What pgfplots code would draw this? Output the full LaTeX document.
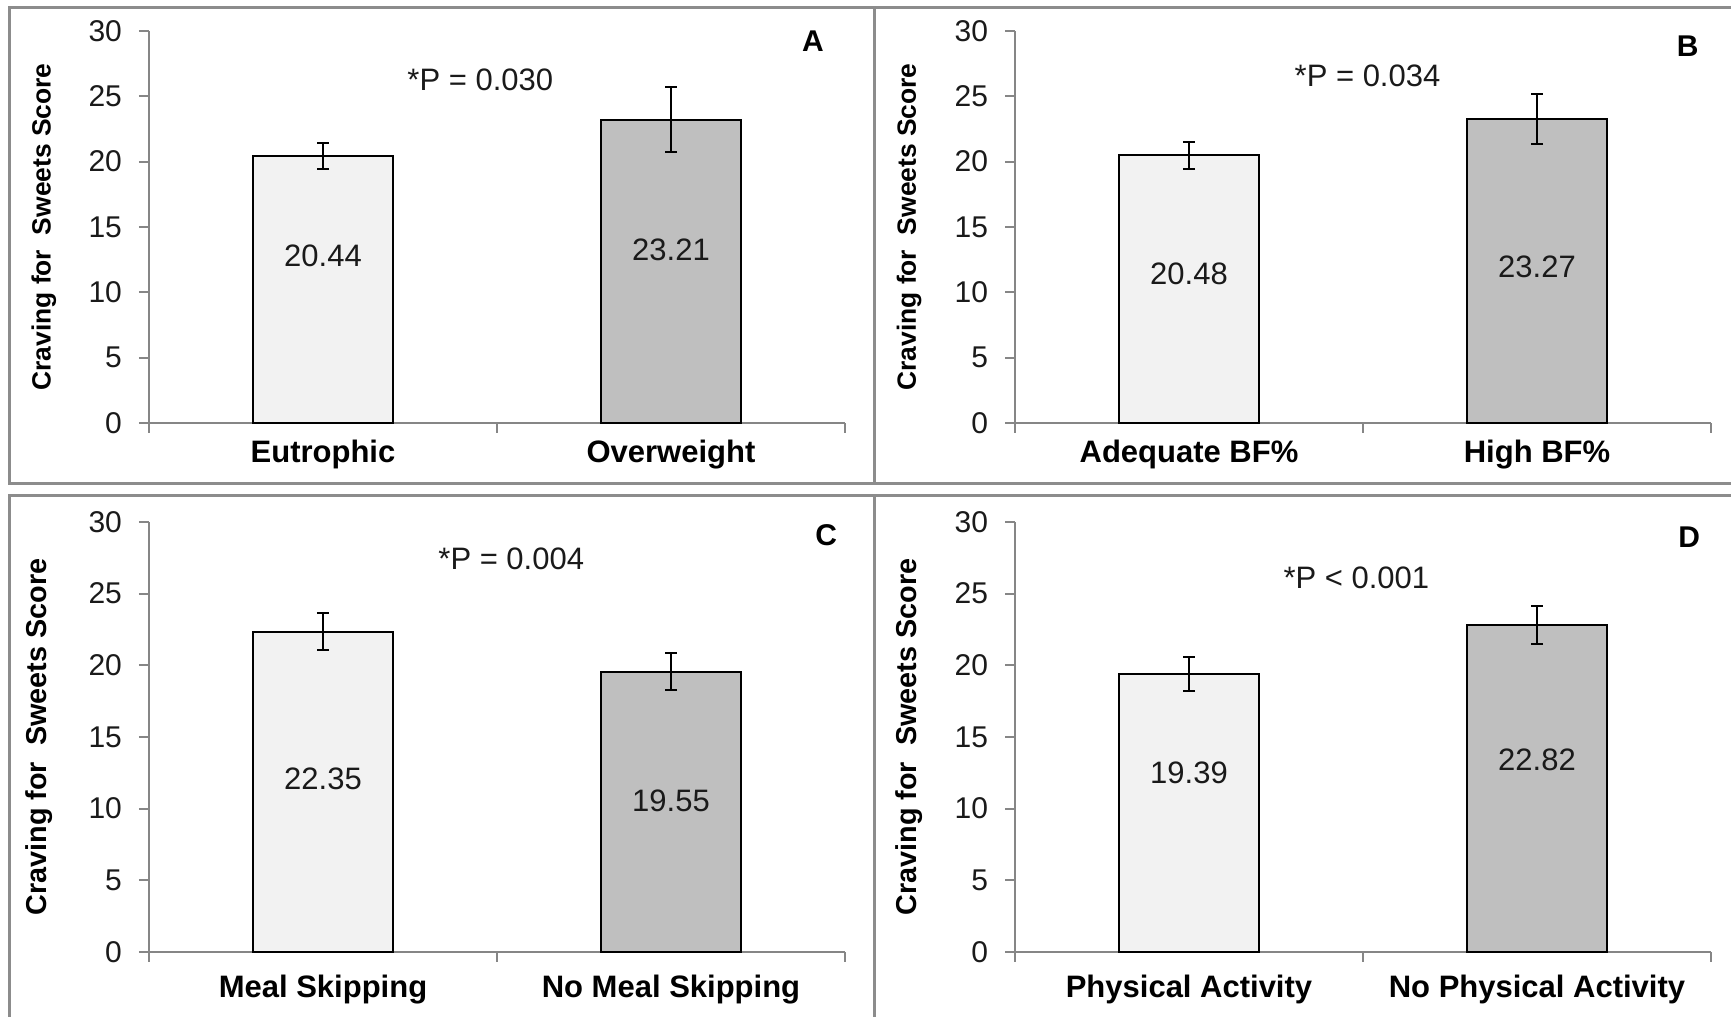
\documentclass[border=0pt]{standalone}
\usepackage{pgfplots}
\pgfplotsset{compat=1.18}
\usepackage{fontspec}
\setmainfont{Liberation Sans}
\definecolor{lightbar}{HTML}{F2F2F2}
\definecolor{darkbar}{HTML}{BFBFBF}
\definecolor{axisgray}{HTML}{868686}
\definecolor{bordergray}{HTML}{8C8C8C}
\definecolor{txt}{HTML}{1A1A1A}
\pgfplotsset{
  panel/.style={
    scale only axis,
    width=348pt,
    xmin=-0.5, xmax=1.5, ymin=0, ymax=30,
    ytick={0,5,...,30},
    xtick={-0.5,0.5,1.5},
    x tick label as interval,
    axis x line*=bottom, axis y line*=left,
    axis line style={draw=axisgray, line width=1.1pt, -},
    tick style={draw=axisgray, line width=1.1pt},
    tick align=outside,
    major tick length=5pt,
    /pgf/number format/assume math mode=true,
    yticklabel style={font=\fontsize{15}{15}\selectfont, text=txt, xshift=-5pt},
    xticklabel style={font=\fontsize{15.5}{15.5}\selectfont\bfseries, text=black},
    ylabel={Craving for\ \ Sweets Score},
    clip=false,
  },
  ylab/.style 2 args={every axis y label/.style={at={(axis description cs:#1,0.5)}, rotate=90, anchor=center, font=\fontsize{#2}{#2}\selectfont\bfseries}},
  lightb/.style={ybar, bar shift=0pt, bar width=0.4, fill=lightbar, draw=black, line width=1pt,
    error bars/.cd, y dir=both, y explicit,
    error bar style={line width=1pt, black},
    error mark options={rotate=90, mark size=3pt, line width=1pt, black}},
  darkb/.style={ybar, bar shift=0pt, bar width=0.4, fill=darkbar, draw=black, line width=1pt,
    error bars/.cd, y dir=both, y explicit,
    error bar style={line width=1pt, black},
    error mark options={rotate=90, mark size=3pt, line width=1pt, black}},
  vals/.style={draw=none, mark=none, nodes near coords, point meta=explicit symbolic,
    nodes near coords align={center},
    every node near coord/.append style={font=\fontsize{15.5}{15.5}\selectfont, text=txt}},
}
\begin{document}
\begin{tikzpicture}
\useasboundingbox (0,0) rectangle (865.5pt,508.5pt);
\fill[white] (0,0) rectangle (865.5pt,508.5pt);
\draw[bordergray, line width=1.5pt] (870pt,504.5pt) -- (4.5pt,504.5pt) -- (4.5pt,266.5pt) -- (870pt,266.5pt);
\draw[bordergray, line width=1.5pt] (437pt,504.5pt) -- (437pt,266.5pt);
\draw[bordergray, line width=1.5pt] (870pt,260.5pt) -- (4.5pt,260.5pt) -- (4.5pt,-5pt);
\draw[bordergray, line width=1.5pt] (437pt,260.5pt) -- (437pt,-5pt);

% Panel A
\begin{axis}[panel, ylab={-0.151}{13.2}, height=196pt, at={(74.5pt,297pt)}, anchor=south west,
  xticklabels={Eutrophic, Overweight}]
\addplot[lightb] coordinates {(0,20.44) +- (0,1.0)};
\addplot[darkb] coordinates {(1,23.21) +- (0,2.5)};
\addplot[vals] coordinates {(0,12.76) [20.44] (1,13.27) [23.21]};
\node[font=\fontsize{15.5}{15.5}\selectfont, text=txt] at (axis cs:0.452,26.28) {*P = 0.030};
\node[font=\fontsize{15}{15}\selectfont\bfseries] at (axis cs:1.408,29.24) {A};
\end{axis}

% Panel B
\begin{axis}[panel, ylab={-0.152}{13.2}, height=196pt, at={(507.5pt,297pt)}, anchor=south west,
  xticklabels={Adequate BF\%, High BF\%}]
\addplot[lightb] coordinates {(0,20.48) +- (0,1.05)};
\addplot[darkb] coordinates {(1,23.27) +- (0,1.9)};
\addplot[vals] coordinates {(0,11.41) [20.48] (1,11.92) [23.27]};
\node[font=\fontsize{15.5}{15.5}\selectfont, text=txt] at (axis cs:0.513,26.6) {*P = 0.034};
\node[font=\fontsize{15}{15}\selectfont\bfseries] at (axis cs:1.433,28.8) {B};
\end{axis}

% Panel C
\begin{axis}[panel, ylab={-0.158}{14.4}, height=215pt, at={(74.5pt,32.5pt)}, anchor=south west,
  xticklabels={Meal Skipping, No Meal Skipping},
  xticklabel style={yshift=-2.8pt}]
\addplot[lightb] coordinates {(0,22.35) +- (0,1.28)};
\addplot[darkb] coordinates {(1,19.55) +- (0,1.3)};
\addplot[vals] coordinates {(0,12.11) [22.35] (1,10.57) [19.55]};
\node[font=\fontsize{15.5}{15.5}\selectfont, text=txt] at (axis cs:0.541,27.45) {*P = 0.004};
\node[font=\fontsize{15}{15}\selectfont\bfseries] at (axis cs:1.446,29.07) {C};
\end{axis}

% Panel D
\begin{axis}[panel, ylab={-0.152}{14.4}, height=215pt, at={(507.5pt,32.5pt)}, anchor=south west,
  xticklabels={Physical Activity, No Physical Activity},
  xticklabel style={yshift=-2.8pt}]
\addplot[lightb] coordinates {(0,19.39) +- (0,1.2)};
\addplot[darkb] coordinates {(1,22.82) +- (0,1.35)};
\addplot[vals] coordinates {(0,12.49) [19.39] (1,13.42) [22.82]};
\node[font=\fontsize{15.5}{15.5}\selectfont, text=txt] at (axis cs:0.481,26.07) {*P < 0.001};
\node[font=\fontsize{15}{15}\selectfont\bfseries] at (axis cs:1.437,28.92) {D};
\end{axis}
\end{tikzpicture}
\end{document}
